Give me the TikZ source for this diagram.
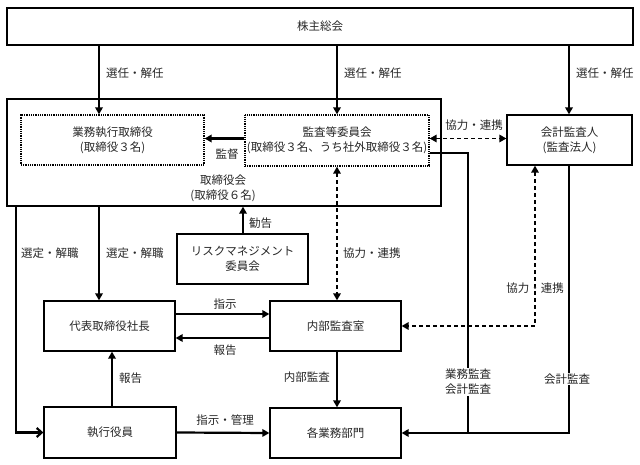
\documentclass[tikz,border=0pt]{standalone}
\usepackage{fontspec}
\setmainfont{Noto Sans CJK JP}
\usetikzlibrary{arrows.meta,calc}
\begin{document}
\begin{tikzpicture}[x=1pt,y=-1pt,
  font=\fontsize{11.5}{15}\selectfont,
  every node/.style={text=black!85},
  box/.style={draw=black, line width=1.3pt, inner sep=0pt, align=center},
  dbox/.style={draw=black, line width=1.3pt, dash pattern=on 1pt off 0.8pt, inner sep=0pt, align=center},
  tip/.tip={Triangle[length=7pt,width=7.5pt]},
  arr/.style={draw=black, line width=2.2pt, -tip},
  darr/.style={draw=black, line width=1.6pt, dash pattern=on 4pt off 3pt, tip-tip},
  thickline/.style={draw=black, line width=2.2pt},
  lbl/.style={inner sep=1pt, align=center},
  wlbl/.style={inner sep=1pt, align=center, fill=white},
]
\useasboundingbox (0,0) rectangle (640,465);

% boxes
\node[box, minimum width=626pt, minimum height=37pt] (soukai) at (320,26.5) {株主総会};
\node[box, minimum width=434pt, minimum height=107pt] (tori) at (224,152.5) {};
\node[dbox, minimum width=183pt, minimum height=50pt] (gyomu) at (112.5,140) {業務執行取締役\\(取締役３名)};
\node[dbox, minimum width=184pt, minimum height=51pt] (kansa) at (337,140.5) {監査等委員会\\(取締役３名、うち社外取締役３名)};
\node[box, minimum width=125pt, minimum height=50pt] (kaikei) at (569.5,140) {会計監査人\\(監査法人)};
\node[lbl] (torilbl) at (223,188.5) {取締役会\\(取締役６名)};
\node[box, minimum width=131pt, minimum height=50pt] (risk) at (242.5,259) {リスクマネジメント\\委員会};
\node[box, minimum width=131pt, minimum height=50pt] (daihyo) at (109.5,326) {代表取締役社長};
\node[box, minimum width=131pt, minimum height=50pt] (naibu) at (335.5,326) {内部監査室};
\node[box, minimum width=132pt, minimum height=51pt] (shikko) at (110,432.5) {執行役員};
\node[box, minimum width=131pt, minimum height=50pt] (kaku) at (335.5,433) {各業務部門};

% reference coordinates
\coordinate (c0) at (16,0);
\coordinate (a1) at (99,0);
\coordinate (c1) at (112,0);
\coordinate (c2) at (243,0);
\coordinate (a2) at (337,0);
\coordinate (c4) at (468,0);
\coordinate (c5) at (535,0);
\coordinate (a3) at (569,0);
\coordinate (y1) at (0,314);
\coordinate (y2) at (0,338);
\coordinate (y3) at (0,153);
\coordinate (y4) at (0,138.5);

% connectors
\draw[arr] (soukai.south -| a1) -- (gyomu.north -| a1);
\draw[arr] (soukai.south -| a2) -- (kansa.north -| a2);
\draw[arr] (soukai.south -| a3) -- (kaikei.north -| a3);
\draw[arr] (kansa.west |- y4) -- (gyomu.east |- y4);
\draw[darr] (kansa.east |- y4) -- (kaikei.west |- y4);
\draw[arr] (risk.north -| c2) -- (tori.south -| c2);
\draw[thickline, -{Straight Barb[length=5pt,width=9pt,line width=2.2pt]}] (tori.south -| c0) -- (c0 |- shikko.west) -- (shikko.west);
\draw[arr] (tori.south -| a1) -- (daihyo.north -| a1);
\draw[darr] (kansa.south -| a2) -- (naibu.north -| a2);
\draw[arr] (daihyo.east |- y1) -- (naibu.west |- y1);
\draw[arr] (naibu.west |- y2) -- (daihyo.east |- y2);
\draw[darr] (kaikei.south -| c5) -- (c5 |- naibu.east) -- (naibu.east);
\draw[arr] (shikko.north -| c1) -- (daihyo.south -| c1);
\draw[arr] (naibu.south -| a2) -- (kaku.north -| a2);
\draw[arr] (shikko.east) -- (kaku.west);
\draw[thickline] (kansa.east |- y3) -- (c4 |- y3) -- (c4 |- kaku.east);
\draw[arr] (kaikei.south -| a3) -- (a3 |- kaku.east) -- (kaku.east);

% labels
\node[lbl, anchor=west] (l1) at (105,73) {選任・解任};
\node[lbl, anchor=west] (l2) at (343,73) {選任・解任};
\node[lbl, anchor=west] (l3) at (575,73) {選任・解任};
\node[lbl] (l4) at (227,154) {監督};
\node[lbl] (l5) at (474,125) {協力・連携};
\node[lbl, anchor=west] (l6) at (248,223) {勧告};
\node[lbl, anchor=west] (l7) at (20,253) {選定・解職};
\node[lbl, anchor=west] (l8) at (105,253) {選定・解職};
\node[lbl, anchor=west] (l9) at (342,253) {協力・連携};
\node[lbl] (l10) at (225,304) {指示};
\node[lbl] (l11) at (225,350) {報告};
\node[lbl] (l12) at (535,288) {協力・連携};
\node[lbl, anchor=west] (l13) at (118,378) {報告};
\node[lbl, anchor=east] (l14) at (331,377) {内部監査};
\node[lbl] (l15) at (225,420) {指示・管理};
\node[wlbl] (l16) at (468,382) {業務監査\\会計監査};
\node[wlbl] (l17) at (567,379) {会計監査};
\end{tikzpicture}
\end{document}
